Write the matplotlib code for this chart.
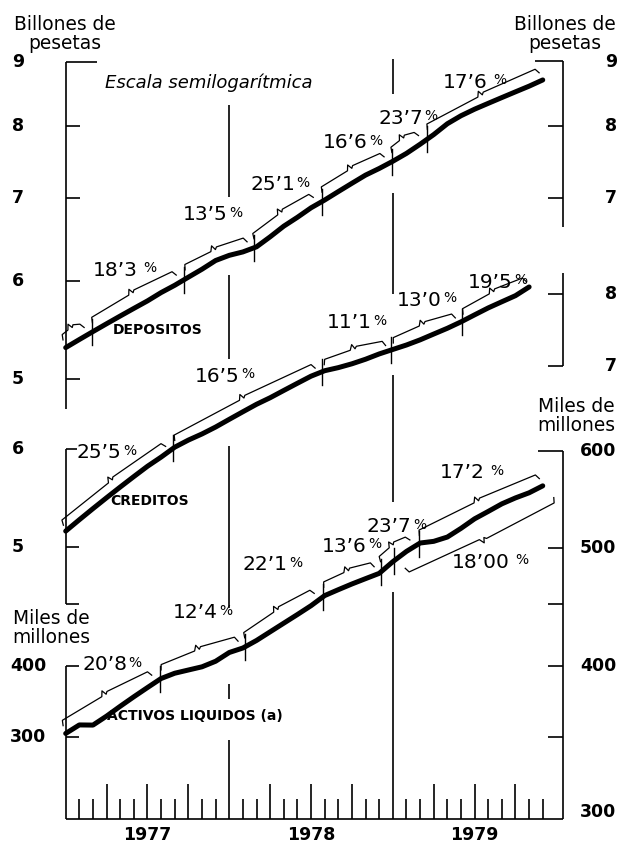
import numpy as np
import matplotlib
matplotlib.use("Agg")
import matplotlib.pyplot as plt

plt.rcParams['font.family'] = ['DejaVu Sans']

# monthly series, m=0 is end 1976 ... Nov 1979
depositos = [5.30, 5.38, 5.46, 5.54, 5.62, 5.70, 5.78, 5.87, 5.95, 6.04, 6.13, 6.23,
             6.29, 6.33, 6.39, 6.51, 6.64, 6.75, 6.87, 6.97, 7.08, 7.19, 7.30, 7.39,
             7.49, 7.60, 7.73, 7.87, 8.03, 8.15, 8.25, 8.34, 8.43, 8.52, 8.61, 8.71]
creditos = [5.15, 5.26, 5.37, 5.48, 5.59, 5.70, 5.81, 5.91, 6.02, 6.10, 6.17, 6.25,
            6.34, 6.43, 6.52, 6.60, 6.69, 6.78, 6.87, 6.94, 6.98, 7.03, 7.09, 7.16,
            7.22, 7.28, 7.35, 7.43, 7.51, 7.60, 7.70, 7.80, 7.89, 7.98, 8.11]
activos = [352.4, 358.1, 358.0, 364.1, 370.9, 377.6, 384.2, 390.8, 394.7, 397.1, 399.5, 403.7,
           410.4, 413.9, 419.8, 426.7, 433.7, 440.8, 448.2, 456.8, 461.9, 466.9, 471.6, 476.3,
           486.9, 496.4, 504.3, 505.9, 510.0, 518.4, 527.8, 535.2, 542.9, 549.0, 554.3, 561.6]

# segment breaks (month) and annualised growth of each segment
dep_cortes = [1.95, 8.7, 13.85, 18.8, 23.95, 26.5]
dep_tasas = ["", "18’3", "13’5", "25’1", "16’6", "23’7", "17’6"]
cre_cortes = [7.9, 18.8, 23.9, 29.05]
cre_tasas = ["25’5", "16’5", "11’1", "13’0", "19’5"]
act_cortes = [6.9, 13.15, 18.85, 23.15, 25.9]
act_tasas = ["20’8", "12’4", "22’1", "13’6", "23’7", "17’2"]
act_tramo_largo = (24.1, "18’00")

anios = ["1977", "1978", "1979"]

W, H = 621, 848
X0, PPM = 65.7, 13.63          # left frame in px, px per month
MR = (563.3 - X0) / PPM         # right frame

fig = plt.figure(figsize=(W / 100, H / 100), dpi=100)


def fx(px):
    return px / W


def fy(py):
    return 1 - py / H


def panel(v_a, py_a, v_b, py_b):
    ax = fig.add_axes([0, 0, 1, 1], facecolor='none')
    ax.set_yscale('log')
    ax.set_xlim(-X0 / PPM, (W - X0) / PPM)
    b = (py_b - py_a) / np.log(v_a / v_b)
    a = py_a + b * np.log(v_a)
    ax.set_ylim(np.exp((a - H) / b), np.exp(a / b))
    ax.axis('off')
    return ax


ax_dep = panel(9, 62.3, 5, 379)
ax_cre = panel(8, 294.3, 5, 547)
ax_act = panel(600, 450.7, 300, 819)

LW = 1.2
kw = dict(color='black', lw=LW)


def serie_en(ax, vals, m):
    meses = np.arange(len(vals))
    v = np.exp(np.interp(m, meses, np.log(vals)))
    return ax.transData.transform((m, v))


def a_datos(ax, pts):
    return ax.transData.inverted().transform(np.array(pts))


def llave(ax, vals, m0, m1, sep, abajo=False):
    p0 = serie_en(ax, vals, m0)
    p1 = serie_en(ax, vals, m1)
    d = (p1 - p0) / np.hypot(*(p1 - p0))
    n = np.array([-d[1], d[0]])
    if abajo:
        n = -n
    a = p0 + n * sep
    b = p1 + n * sep
    c = (a + b) / 2
    pts = [a - n * 6, a - n * 1 + d * 2, c - d * 3, c + n * 5, c + d * 2,
           c + d * 4 + n * 2, b - d * 2 - n * 1, b - n * 6]
    xy = a_datos(ax, pts)
    ax.plot(xy[:, 0], xy[:, 1], color='black', lw=0.9)
    return c


def corte(ax, vals, m):
    p = serie_en(ax, vals, m)
    xy = a_datos(ax, [p + (0, 13), p - (0, 13)])
    ax.plot(xy[:, 0], xy[:, 1], color='black', lw=1.0)


def tasa(ax, x, y, txt, pct=" %"):
    t = ax.text(fx(x), fy(y), txt, transform=fig.transFigure, fontsize=14.5,
                ha='left', va='center')
    ax.annotate(pct.strip(), xy=(1, 0.62), xycoords=t,
                xytext=(4 if pct.startswith(" ") else 1, 0), textcoords='offset points',
                fontsize=10, ha='left', va='center')


def tramos(ax, vals, cortes, tasas, sep, fin):
    lim = [0.0] + list(cortes) + [fin]
    for i, txt in enumerate(tasas):
        m0 = lim[i] + (0.1 if i == 0 else 0.3)
        m1 = lim[i + 1] - (0.0 if i == len(tasas) - 1 else 0.3)
        llave(ax, vals, m0, m1, sep)
    for m in cortes:
        corte(ax, vals, m)


# --- series
for ax, vals in [(ax_dep, depositos), (ax_cre, creditos), (ax_act, activos)]:
    ax.plot(np.arange(len(vals)), vals, color='black', lw=3.6,
            solid_capstyle='round', solid_joinstyle='round')

tramos(ax_dep, depositos, dep_cortes, dep_tasas, 14, len(depositos) - 1)
tramos(ax_cre, creditos, cre_cortes, cre_tasas, 12, len(creditos) - 1)
tramos(ax_act, activos, act_cortes, act_tasas, 14, len(activos) - 1)
llave(ax_act, activos, act_tramo_largo[0] + 0.4, len(activos) - 0.6, 19, abajo=True)
corte(ax_act, activos, act_tramo_largo[0])

# growth labels (left edge / centre row in px)
dep_pos = [(93, 270), (183, 215), (250, 185), (323, 143), (378, 118), (443, 82)]
cre_pos = [(77, 453), (195, 376), (327, 323), (397, 300), (468, 282)]
act_pos = [(82, 665), (173, 613), (243, 565), (322, 546), (367, 527), (440, 473)]
for ax, tx, pos in [(ax_dep, dep_tasas[1:], dep_pos), (ax_cre, cre_tasas, cre_pos),
                    (ax_act, act_tasas, act_pos)]:
    for txt, (x, y) in zip(tx, pos):
        tasa(ax, x, y, txt, " %" if txt in ("18’3", "17’6", "17’2") else "%")
tasa(ax_act, 452, 562, act_tramo_largo[1])

# --- frames
# depositos
ax_dep.vlines(0, 4.73, 9, **kw)
ax_dep.hlines(9, 0, 2.3, **kw)
ax_dep.hlines([8, 7, 6, 5], 0, 1.05, **kw)
ax_dep.vlines(MR, 6.63, 9.02, **kw)
ax_dep.hlines(9.02, 34.43, MR, **kw)
ax_dep.hlines([8, 7], 35.4, MR, **kw)
# creditos
ax_cre.vlines(0, 4.5, 6, **kw)
ax_cre.hlines(6, 0, 0.83, **kw)
ax_cre.hlines([5, 4.5], 0, 1.0, **kw)
ax_cre.vlines(MR, 7, 8.32, **kw)
ax_cre.hlines([8, 7], 35.4, MR, **kw)
# activos
ax_act.vlines(0, 300, 400, **kw)
ax_act.hlines([400, 350], 0, 1.0, **kw)
ax_act.vlines(MR, 300, 600, **kw)
ax_act.hlines(600, 34.65, MR, **kw)
ax_act.hlines([500, 450, 400, 350], 35.4, MR, **kw)
ax_act.hlines(300, 0, MR, **kw)

# month ticks on the base line, quarters taller
for m in range(1, 36):
    if m % 12 == 0:
        continue
    ax_act.vlines(m, 300, 320.5 if m % 3 == 0 else 311.6, **kw)

# year separators (broken where text and lines cross)
for ax, m, tramos_v in [(ax_dep, 12, [(8.32, 7.01), (6.07, 5.19)]),
                        (ax_cre, 12, [(6.03, 4.46)]),
                        (ax_act, 12, [(387, 376), (348, 300)]),
                        (ax_dep, 24, [(9.05, 8.48), (7.06, 5.85)]),
                        (ax_cre, 24, [(6.89, 5.44)]),
                        (ax_act, 24, [(460, 300)])]:
    for top, bot in tramos_v:
        ax.vlines(m, bot, top, **kw)

# --- tick labels
ml, mr = (18 - X0) / PPM, (611 - X0) / PPM
num = dict(fontsize=12.5, fontweight='bold', ha='center', va='center')
for v in [9, 8, 7, 6, 5]:
    ax_dep.text(ml, v, str(v), **num)
for v in [6, 5]:
    ax_cre.text(ml, v, str(v), **num)
for v in [9, 8, 7]:
    ax_dep.text(mr, v, str(v), **num)
for v in [8, 7]:
    ax_cre.text(mr, v, str(v), **num)
ma, mb = (28 - X0) / PPM, (598 - X0) / PPM
ax_act.text(ma, 400, "400", **num)
ax_act.text(ma, 350, "300", **num)
for v in [600, 500, 400]:
    ax_act.text(mb, v, str(v), **num)
ax_act.text(mb, 304, "300", **num)
for i, a in enumerate(anios):
    ax_act.text(6 + 12 * i, 291.2, a, **num)

# --- titles and names
tit = dict(fontsize=13.4, ha='center', va='center', linespacing=1.0)
fig.text(fx(65), fy(34), "Billones de\npesetas", **tit)
fig.text(fx(565), fy(34), "Billones de\npesetas", **tit)
fig.text(fx(51), fy(628), "Miles de\nmillones", **tit)
fig.text(fx(576), fy(416), "Miles de\nmillones", **tit)
fig.text(fx(105), fy(83), "Escala semilogarítmica", fontsize=13, style='italic',
         ha='left', va='center')
nom = dict(fontsize=10, fontweight='bold', ha='left', va='center')
fig.text(fx(113), fy(330), "DEPOSITOS", **nom)
fig.text(fx(110), fy(501), "CREDITOS", **nom)
fig.text(fx(107), fy(716), "ACTIVOS LIQUIDOS (a)", **nom)

fig.savefig("out.png", dpi=100, facecolor='white')
